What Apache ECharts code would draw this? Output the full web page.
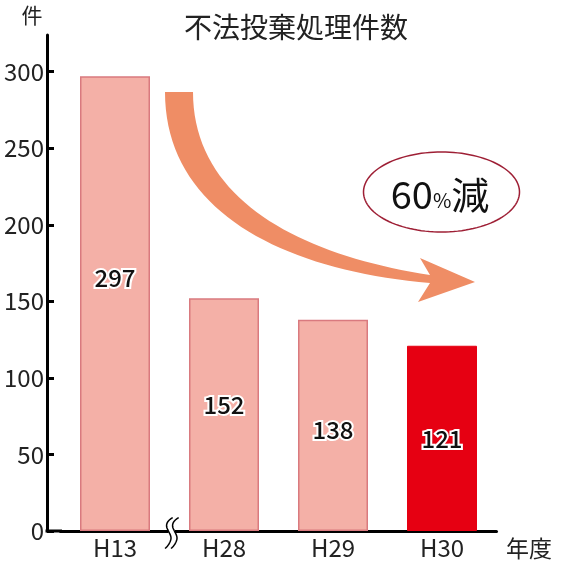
<!DOCTYPE html>
<html>
<head>
<meta charset="utf-8">
<script src="https://cdn.jsdelivr.net/npm/echarts@6/dist/echarts.min.js"></script>
<style>html,body{margin:0;padding:0;background:#fff;}#c{width:570px;height:566px;}</style>
</head>
<body>
<div id="c"></div>
<script>
const categories = ['H13', 'H28', 'H29', 'H30'];
const values = [297, 152, 138, 121];
const yTicks = [0, 50, 100, 150, 200, 250, 300];
const titleText = '不法投棄処理件数';
const yUnit = '件';
const xUnit = '年度';

const FONT = '"Noto Sans CJK JP", "Open Sans", sans-serif';
const pink = '#F4B0A7';
const pinkBorder = '#D97A7F';
const red = '#E60012';
const labelOffsets = [-26, -10, 5, 0];

// helpers to sample decorative curves into point lists
function cubic(p0, p1, p2, p3, n) {
  const pts = [];
  for (let i = 0; i <= n; i++) {
    const t = i / n, u = 1 - t;
    pts.push([
      u*u*u*p0[0] + 3*u*u*t*p1[0] + 3*u*t*t*p2[0] + t*t*t*p3[0],
      u*u*u*p0[1] + 3*u*u*t*p1[1] + 3*u*t*t*p2[1] + t*t*t*p3[1]
    ]);
  }
  return pts;
}
function ellipsePts(cx, cy, rx, ry, n) {
  const pts = [];
  for (let i = 0; i < n; i++) {
    const a = i / n * Math.PI * 2;
    pts.push([cx + rx * Math.cos(a), cy + ry * Math.sin(a)]);
  }
  return pts;
}
function chain(segs) {
  let out = [];
  segs.forEach((s, k) => { out = out.concat(k ? s.slice(1) : s); });
  return out;
}

const arrowPts = [].concat(
  [[165, 92], [193, 92]],
  cubic([193, 92], [193, 200], [300, 255], [430, 275], 40).slice(1),
  [[420, 258], [475, 282], [418, 302], [430, 283]],
  cubic([430, 283], [280, 270], [165, 210], [165, 92], 40).slice(1, -1)
);
const break1 = chain([
  cubic([172.7, 517.7], [168, 520], [165.5, 524], [167, 528], 10),
  cubic([167, 528], [169, 533], [172, 536], [170.7, 540], 10),
  cubic([170.7, 540], [169.5, 544], [167, 547], [165, 548.5], 10)
]);
const break2 = break1.map(p => [p[0] + 6, p[1]]);

const chart = echarts.init(document.getElementById('c'));
chart.setOption({
  animation: false,
  backgroundColor: '#fff',
  grid: { left: 60.5, right: 73.5, top: 35, bottom: 35 },
  xAxis: {
    type: 'category',
    data: categories,
    axisLine: { lineStyle: { color: '#000', width: 3 } },
    axisTick: { show: false },
    axisLabel: { fontSize: 24, color: '#222', fontFamily: FONT, margin: 5 }
  },
  yAxis: {
    type: 'value',
    min: 0, max: 324,
    offset: 13.5,
    splitLine: { show: false },
    axisLine: { show: true, lineStyle: { color: '#000', width: 3 } },
    axisTick: { show: true, inside: true, length: 7, lineStyle: { color: '#000', width: 3 }, customValues: yTicks },
    axisLabel: { fontSize: 24, color: '#222', fontFamily: FONT, margin: 3, customValues: yTicks }
  },
  series: [{
    type: 'bar',
    barWidth: 70,
    data: values.map((v, i) => ({
      value: v,
      itemStyle: i === values.length - 1
        ? { color: red, borderColor: red, borderWidth: 1 }
        : { color: pink, borderColor: pinkBorder, borderWidth: 1.5 },
      label: { offset: [0, labelOffsets[i]] }
    })),
    label: {
      show: true,
      position: 'inside',
      fontSize: 24,
      fontWeight: 500,
      fontFamily: FONT,
      color: '#111',
      textBorderColor: '#fff',
      textBorderWidth: 4
    }
  }],
  graphic: [
    { type: 'text', style: { text: titleText, x: 296, y: 27, align: 'center', verticalAlign: 'middle', fontSize: 28, fontFamily: FONT, fill: '#222' } },
    { type: 'text', style: { text: yUnit, x: 32, y: 15, align: 'center', verticalAlign: 'middle', fontSize: 21, fontFamily: FONT, fill: '#222' } },
    { type: 'text', style: { text: xUnit, x: 529, y: 548, align: 'center', verticalAlign: 'middle', fontSize: 23, fontFamily: FONT, fill: '#222' } },
    { type: 'line', shape: { x1: 45.5, y1: 531, x2: 62, y2: 531 }, style: { stroke: '#000', lineWidth: 3 } },
    { type: 'rect', shape: { x: 168.5, y: 528, width: 6.5, height: 6 }, style: { fill: '#fff' }, z: 100 },
    { type: 'polyline', shape: { points: break1 }, style: { stroke: '#000', lineWidth: 1.5, fill: null }, z: 101 },
    { type: 'polyline', shape: { points: break2 }, style: { stroke: '#000', lineWidth: 1.5, fill: null }, z: 101 },
    { type: 'polygon', shape: { points: arrowPts }, style: { fill: '#EF8D65' }, z: 50 },
    { type: 'polygon', shape: { points: ellipsePts(441.5, 192, 78, 40, 120) }, style: { fill: '#fff', stroke: '#9E1F35', lineWidth: 1.5 }, z: 50 },
    { type: 'text', z: 51, style: {
      x: 440, y: 195, align: 'center', verticalAlign: 'middle',
      text: '{a|60}{b|%}{a|減}',
      rich: {
        a: { fontSize: 38, fontFamily: FONT, fill: '#111', fontWeight: 'normal' },
        b: { fontSize: 20, fontFamily: FONT, fill: '#111', padding: [10, 0, 0, 0] }
      }
    } }
  ]
});
</script>
</body>
</html>
